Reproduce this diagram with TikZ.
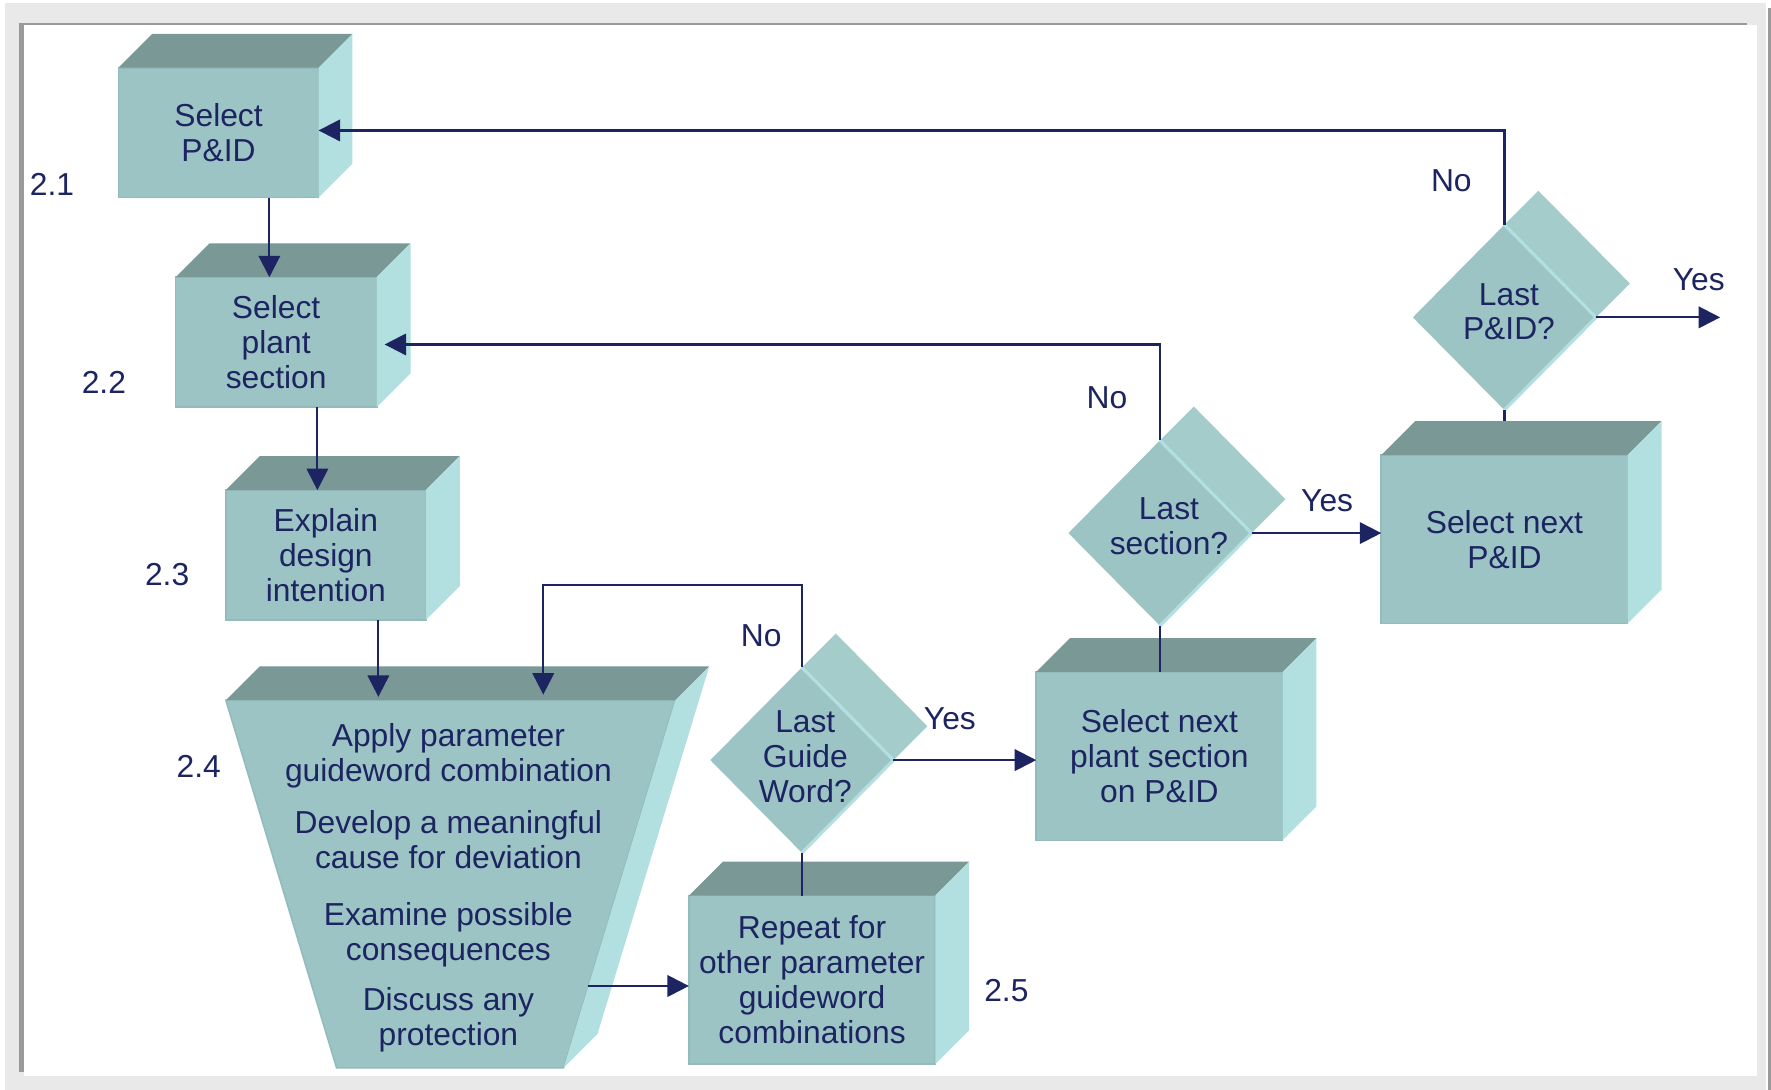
\documentclass[tikz,border=0pt]{standalone}
\usepackage{fontspec}
\setmainfont{Liberation Sans}
\usetikzlibrary{arrows.meta,shapes.geometric}
\definecolor{navy}{HTML}{1C2461}
\definecolor{frontc}{HTML}{9DC4C4}
\definecolor{edgec}{HTML}{93BBBB}
\definecolor{topc}{HTML}{7A9896}
\definecolor{sidec}{HTML}{B2E0E0}
\definecolor{facec}{HTML}{A3CCCB}
\definecolor{framebg}{HTML}{E9E9E9}
\definecolor{frameline}{HTML}{9A9A9A}
\newcommand{\cubefaces}[1]{%
    \fill[topc] (#1.north west) -- ([shift={(30,-30)}]#1.north west) -- ([shift={(30,-30)}]#1.north east) -- (#1.north east) -- cycle;
    \fill[sidec] (#1.north east) -- ([shift={(30,-30)}]#1.north east) -- ([shift={(30,-30)}]#1.south east) -- (#1.south east) -- cycle;}
\newcommand{\diamondface}[1]{%
    \fill[facec] (#1.north) -- ([shift={(30,-30)}]#1.north) -- ([shift={(30,-30)}]#1.east) -- (#1.east) -- cycle;
    \draw[sidec, line width=0.8pt] (#1.north) -- (#1.east) -- (#1.south);}
\begin{document}
\begin{tikzpicture}[x=0.01cm, y=-0.01cm,
    txt/.style={text=navy, font={\fontsize{8pt}{8.8pt}\selectfont}, align=center, inner sep=0pt},
    cube/.style={txt, rectangle, fill=frontc, draw=edgec, line width=0.4pt, outer sep=0pt},
    decision/.style={diamond, fill=frontc, inner sep=0pt, outer sep=0pt, minimum width=1.62cm, minimum height=1.64cm},
    steplabel/.style={txt},
    answer/.style={txt},
    link/.style={draw=navy, line width=0.55pt},
    flow/.style={link, -{Triangle[length=0.19cm, width=0.19cm]}}]
    \useasboundingbox (0,0) rectangle (1568,965);
    \fill[framebg] (4,3) rectangle (1564,965);
    \fill[white] (21,22) rectangle (1556,953);
    \fill[frameline] (17,20) rectangle (21,949);
    \fill[frameline] (17,20) rectangle (1547,22);
    \fill[frameline] (1565,7) rectangle (1568,965);

    \node[cube, minimum width=1.77cm, minimum height=1.15cm] (selpid) at (193.5,117.5) {Select\\P\&ID};
    \node[cube, minimum width=1.78cm, minimum height=1.15cm] (selplant) at (244.5,303) {Select\\plant\\section};
    \node[cube, minimum width=1.77cm, minimum height=1.15cm] (explain) at (288.5,491.5) {Explain\\design\\intention};
    \node[cube, minimum width=2.18cm, minimum height=1.49cm] (nextpid) at (1332,477.5) {Select next\\P\&ID};
    \node[cube, minimum width=2.18cm, minimum height=1.49cm] (nextsec) at (1026.5,669.5) {Select next\\plant section\\on P\&ID};
    \node[cube, minimum width=2.18cm, minimum height=1.49cm] (repeat) at (719,867.5) {Repeat for\\other parameter\\guideword\\combinations};
    \cubefaces{selpid}
    \cubefaces{selplant}
    \cubefaces{explain}
    \cubefaces{nextpid}
    \cubefaces{nextsec}
    \cubefaces{repeat}

    \coordinate (tl) at (200,620);
    \coordinate (tr) at (598,620);
    \coordinate (br) at (499,945.5);
    \coordinate (bl) at (298,945.5);
    \fill[frontc, draw=edgec, line width=0.4pt] (tl) -- (tr) -- (br) -- (bl) -- cycle;
    \fill[topc] (tl) -- ([shift={(30,-30)}]tl) -- ([shift={(30,-30)}]tr) -- (tr) -- cycle;
    \fill[sidec] (tr) -- ([shift={(30,-30)}]tr) -- ([shift={(30,-30)}]br) -- (br) -- cycle;
    \node[txt] (steps) at (397,786) {Apply parameter\\guideword combination\\[4.3pt]Develop a meaningful\\cause for deviation\\[5.7pt]Examine possible\\consequences\\[3.7pt]Discuss any\\protection};

    \node[decision] (lgw) at (710,673) {};
    \node[decision] (lsec) at (1027,472) {};
    \node[decision] (lpid) at (1332,281) {};
    \diamondface{lgw}
    \diamondface{lsec}
    \diamondface{lpid}
    \node[txt] (lgwtxt) at (713,670) {Last\\Guide\\Word?};
    \node[txt] (lsectxt) at (1035,466) {Last\\section?};
    \node[txt] (lpidtxt) at (1336,276) {Last\\P\&ID?};

    \node[steplabel] (n21) at (46,163) {2.1};
    \node[steplabel] (n22) at (92,339) {2.2};
    \node[steplabel] (n23) at (148,509) {2.3};
    \node[steplabel] (n24) at (176,679) {2.4};
    \node[steplabel] (n25) at (891,877) {2.5};

    \node[answer] (nopid) at (1285,160) {No};
    \node[answer] (yespid) at (1504,248) {Yes};
    \node[answer] (nosec) at (980,352) {No};
    \node[answer] (yessec) at (1175,443) {Yes};
    \node[answer] (nogw) at (674,563) {No};
    \node[answer] (yesgw) at (841,636) {Yes};

    \coordinate (inab) at (238.5,0);
    \coordinate (inbc) at (281,0);
    \coordinate (incd) at (335,617);
    \coordinate (inloop) at (481,615);
    \coordinate (outsteps) at (521,873);
    \coordinate (exitpid) at (1523,0);

    \draw
        [flow] (selpid.south -| inab) -- (selplant.north -| inab);
    \draw
        [flow] (selplant.south -| inbc) -- (explain.north -| inbc);
    \draw
        [flow] (explain.south -| incd) -- (incd);
    \draw
        [flow] (lgw.north) -- ++(0,-73) -| (inloop);
    \draw
        [flow] (lgw.east) -- (nextsec.west |- lgw.east);
    \draw
        [link] (lgw.south) -- (lgw.south |- repeat.north);
    \draw
        [flow] (outsteps) -- (repeat.west |- outsteps);
    \draw
        [flow] (lsec.north) |- ([shift={(7,2)}]selplant.east);
    \draw
        [flow] (lsec.east) -- (nextpid.west |- lsec.east);
    \draw
        [link] (lsec.south) -- (lsec.south |- nextsec.north);
    \draw
        [flow] (lpid.north) |- ([shift={(0,-2)}]selpid.east);
    \draw
        [flow] (lpid.east) -- (lpid.east -| exitpid);
    \draw
        [link] (lpid.south) -- ([shift={(0,-30)}]nextpid.north);
\end{tikzpicture}
\end{document}
